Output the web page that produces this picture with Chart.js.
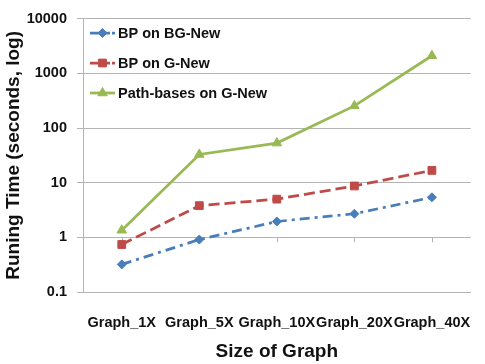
<!DOCTYPE html>
<html>
<head>
<meta charset="utf-8">
<script src="https://cdn.jsdelivr.net/npm/chart.js@4/dist/chart.umd.min.js"></script>
<style>
html,body{margin:0;padding:0;background:#fff;}
#wrap{width:485px;height:364px;position:relative;}
</style>
</head>
<body>
<div id="wrap"><canvas id="c" width="485" height="364"></canvas></div>
<script>
const categories = ["Graph_1X", "Graph_5X", "Graph_10X", "Graph_20X", "Graph_40X"];
const seriesNames = ["BP on BG-New", "BP on G-New", "Path-bases on G-New"];
const bpOnBGNew = [0.32, 0.91, 1.95, 2.7, 5.4];
const bpOnGNew = [0.74, 3.8, 5.0, 8.7, 16.8];
const pathBasesOnGNew = [1.35, 32.8, 53, 254, 2100];
const yTickValues = [0.1, 1, 10, 100, 1000, 10000];
const yTickLabels = ["0.1", "1", "10", "100", "1000", "10000"];
const xTitle = "Size of Graph";
const yTitle = "Runing Time (seconds, log)";

const FONT = "'Liberation Sans', Arial, sans-serif";
const BLUE = "#4A7EBB", RED = "#BE4B48", GREEN = "#98B954";
const GRID = "#b4b4b4";

const legendPlugin = {
  id: 'insideLegend',
  afterDraw(chart) {
    const ctx = chart.ctx;
    const x0 = 90, x1 = 115, tx = 118;
    const ys = [33, 63, 93];
    chart.data.datasets.forEach((ds, i) => {
      const y = ys[i];
      ctx.save();
      ctx.strokeStyle = ds.borderColor;
      ctx.lineWidth = ds.borderWidth;
      ctx.setLineDash(i === 2 ? [] : [20, 2]);
      ctx.beginPath();
      ctx.moveTo(x0, y); ctx.lineTo(x1, y);
      ctx.stroke();
      ctx.setLineDash([]);
      Chart.helpers.drawPoint(ctx, {
        pointStyle: ds.pointStyle, rotation: 0, borderWidth: 1
      }, (x0 + x1) / 2, y);
      ctx.fillStyle = ds.backgroundColor;
      ctx.strokeStyle = ds.borderColor;
      ctx.restore();
      ctx.save();
      ctx.fillStyle = ds.backgroundColor;
      ctx.strokeStyle = ds.borderColor;
      ctx.lineWidth = 1;
      Chart.helpers.drawPoint(ctx, {pointStyle: ds.pointStyle, rotation: 0, borderWidth: 1, radius: ds.pointRadius}, (x0 + x1) / 2, y);
      ctx.fillStyle = "#111";
      ctx.font = "bold 14.5px " + FONT;
      ctx.textBaseline = "middle";
      ctx.textAlign = "left";
      ctx.fillText(ds.label, tx, y + 1);
      ctx.restore();
    });
  }
};

const crossTicks = {
  id: 'crossTicks',
  beforeDatasetsDraw(chart) {
    const xs = chart.scales.x, ys = chart.scales.y;
    const y = ys.getPixelForValue(1);
    const ctx = chart.ctx;
    ctx.save();
    ctx.strokeStyle = GRID;
    ctx.lineWidth = 1;
    categories.forEach((c, i) => {
      const x = Math.round(xs.getPixelForValue(i)) + 0.5;
      ctx.beginPath(); ctx.moveTo(x, y); ctx.lineTo(x, y + 5); ctx.stroke();
    });
    ctx.restore();
  }
};

new Chart(document.getElementById('c'), {
  type: 'line',
  data: {
    labels: categories,
    datasets: [
      { label: seriesNames[0], data: bpOnBGNew, borderColor: BLUE, backgroundColor: BLUE,
        borderWidth: 2.75, borderDash: [10, 5, 3, 5], pointStyle: 'rectRot', pointRadius: 4.5,
        pointBorderWidth: 1, tension: 0 },
      { label: seriesNames[1], data: bpOnGNew, borderColor: RED, backgroundColor: RED,
        borderWidth: 2.75, borderDash: [11, 5], pointStyle: 'rect', pointRadius: 5.5,
        pointBorderWidth: 1, tension: 0 },
      { label: seriesNames[2], data: pathBasesOnGNew, borderColor: GREEN, backgroundColor: GREEN,
        borderWidth: 2.75, pointStyle: 'triangle', pointRadius: 5.5,
        pointBorderWidth: 1, tension: 0 }
    ]
  },
  options: {
    responsive: false,
    animation: false,
    devicePixelRatio: 1,
    layout: { padding: { left: 0, right: 8, top: 16, bottom: 0 } },
    plugins: { legend: { display: false }, tooltip: { enabled: false } },
    scales: {
      x: {
        type: 'category',
        offset: true,
        grid: { display: false },
        border: { display: true, color: GRID, width: 1 },
        ticks: { autoSkip: false, maxRotation: 0, minRotation: 0, padding: 14,
          color: "#111", font: { family: FONT, size: 14.5, weight: 'bold' } },
        title: { display: true, text: xTitle, color: "#111",
          font: { family: FONT, size: 19, weight: 'bold' }, padding: { top: 0, bottom: 1 } },
        afterFit(s) { s.height = 72; }
      },
      y: {
        type: 'logarithmic',
        min: 0.1, max: 10000,
        grid: { color: GRID, lineWidth: 1, drawTicks: true, tickLength: 6, tickColor: GRID },
        border: { display: true, color: GRID, width: 1 },
        afterBuildTicks(s) { s.ticks = yTickValues.map(v => ({ value: v })); },
        ticks: { padding: 10, color: "#111", font: { family: FONT, size: 14.5, weight: 'bold' },
          callback(v) { const i = yTickValues.indexOf(v); return i >= 0 ? yTickLabels[i] : ''; } },
        title: { display: true, text: yTitle, color: "#111",
          font: { family: FONT, size: 19, weight: 'bold' }, padding: { top: 2, bottom: 0 } },
        afterFit(s) { s.width = 83; }
      }
    }
  },
  plugins: [crossTicks, legendPlugin]
});
</script>
</body>
</html>
